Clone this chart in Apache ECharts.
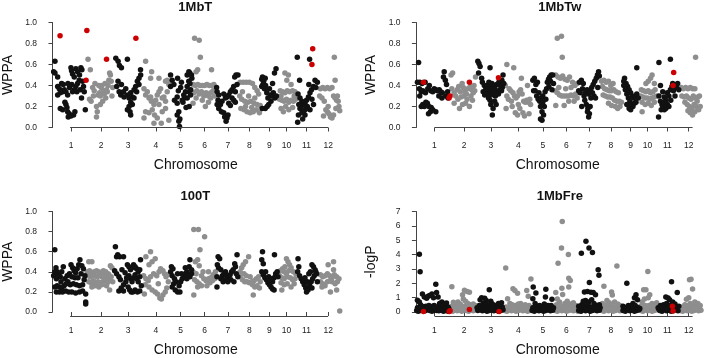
<!DOCTYPE html>
<html>
<head>
<meta charset="utf-8">
<script src="https://cdn.jsdelivr.net/npm/echarts@6/dist/echarts.min.js"></script>
<style>
  html, body { margin: 0; padding: 0; background: #fff; }
  #chart { width: 706px; height: 358px; }
</style>
</head>
<body>
<div id="chart"></div>
<script>
// chromosome starts in Mb (cumulative), tick positions as drawn, tick labels
const chrStart = [0, 43.3, 79.2, 115.6, 151.1, 181.0, 212.2, 241.9, 270.3, 293.3, 316.5, 345.5, 373.0]
const chrTicks = [24, 63, 98, 134, 166, 197, 227, 255, 281, 303, 329, 357]
const chrLabels = ['1', '2', '3', '4', '5', '6', '7', '8', '9', '10', '11', '12']

// 1MbT  [position Mb, WPPA]
const p1Pts = [
  [3.2,0.63],[1.5,0.53],[3.2,0.52],[6.7,0.48],[6.7,0.39],[8.8,0.37],[11.8,0.42],[14,0.41],[13.1,0.34],[10.1,0.33],[6.7,0.31],[15.3,0.36],[17.4,0.34],[19.6,0.31],[10.1,0.18],[13.1,0.17],[16.1,0.24],[17.4,0.22],[18.7,0.19],[19.6,0.15],[21.7,0.13],[23.9,0.11],[20.4,0.1],[27.3,0.12],[29,0.15],[23.9,0.57],[24.7,0.54],[26,0.51],[28.2,0.48],[30.3,0.56],[32.5,0.53],[35,0.5],[36.8,0.57],[38.1,0.55],[34.6,0.45],[32.5,0.42],[30.3,0.39],[28.2,0.36],[26,0.34],[31.6,0.34],[35.9,0.36],[38.9,0.44],[40.2,0.39],[41.1,0.34],[37.6,0.28],[42.5,0.17],[22,0.38],[20,0.42],[25,0.41],
  [46,0.65],[49,0.55],[48,0.27],[50,0.25],[52,0.38],[54,0.35],[55,0.42],[57,0.2],[58,0.15],[57,0.1],[59,0.31],[61,0.33],[62,0.3],[63,0.38],[64,0.4],[66,0.35],[67,0.32],[68,0.42],[70,0.36],[71,0.34],[72,0.4],[73,0.45],[74,0.52],[75,0.5],[76,0.44],[77,0.3],[78,0.38],[53,0.3],[60,0.4],[65,0.25],[69,0.28],[62,0.22],
  [82,0.66],[85,0.63],[86.7,0.59],[89.3,0.57],[97,0.65],[83.2,0.39],[86.3,0.34],[88.4,0.31],[91.8,0.34],[94.9,0.37],[97,0.31],[99.2,0.28],[101.3,0.33],[103.4,0.29],[105.6,0.36],[107.7,0.39],[109.9,0.44],[112,0.47],[114.2,0.5],[112,0.41],[109,0.34],[105.6,0.28],[101.3,0.24],[99.2,0.2],[100.4,0.15],[103.4,0.22],[101.3,0.12],[97,0.17],[92.7,0.29],[89.3,0.41],[84.9,0.44],[114,0.55],
  [120.6,0.63],[128.4,0.53],[137.9,0.47],[146.4,0.44],[127.1,0.47],[118.5,0.37],[120.6,0.31],[122.8,0.34],[125,0.28],[127.1,0.29],[128,0.25],[131.4,0.22],[133.6,0.26],[135.7,0.31],[137.9,0.34],[140,0.37],[142.1,0.28],[144.3,0.29],[146.4,0.25],[148.6,0.34],[148.6,0.45],[150.7,0.41],[120.6,0.15],[118.5,0.09],[125,0.14],[129.2,0.17],[132.2,0.12],[131.4,0.04],[140.9,0.04],[135.7,0.09],[142.1,0.15],[137.9,0.22],[146.4,0.18],[150.7,0.07],
  [152.9,0.5],[155,0.45],[157.2,0.41],[152.9,0.39],[161.5,0.29],[158,0.26],[161.5,0.23],[163.6,0.15],[161.5,0.12],[163.6,0.06],[164.5,0.01],[168,0.26],[170,0.31],[172.2,0.34],[174.4,0.39],[176.5,0.44],[174.4,0.5],[177.8,0.52],[176.6,0.53],[180.5,0.47],[174.5,0.28],[176.6,0.34],[178.8,0.31],[169,0.24],[171,0.28],[166,0.38],[167,0.43],[162,0.47],[163,0.35],[178,0.42],[180,0.5],[179,0.36],[177,0.2],[173,0.19],[165,0.08],
  [184,0.85],[190,0.83],[191.5,0.67],[188,0.55],[186,0.53],[206,0.55],[182,0.41],[185,0.4],[188,0.41],[191,0.4],[194,0.4],[197,0.4],[200,0.41],[203,0.4],[206,0.4],[209,0.41],[183,0.33],[187,0.35],[190,0.32],[193,0.34],[196,0.3],[199,0.33],[202,0.3],[205,0.33],[208,0.35],[182,0.23],[194,0.26],[202,0.24],[198,0.2],[205,0.28],[210,0.3],[186,0.28],
  [212.5,0.38],[213.2,0.34],[215.3,0.31],[214.4,0.26],[213.2,0.22],[215.3,0.18],[217.5,0.22],[219.6,0.25],[218.8,0.15],[221.8,0.14],[223,0.1],[226,0.09],[224.8,0.06],[227.3,0.12],[226,0.29],[228.2,0.31],[230.4,0.34],[232.5,0.36],[234.7,0.39],[236,0.48],[237.7,0.5],[240.2,0.5],[232.5,0.28],[234.7,0.26],[236.8,0.24],[228.2,0.23],[230.4,0.21],[224,0.28],[221.8,0.32],[236.8,0.34],[239,0.41],
  [243,0.43],[247,0.43],[251,0.43],[255,0.43],[259,0.42],[262,0.38],[265,0.35],[242.5,0.3],[245,0.27],[249,0.25],[253,0.24],[257,0.25],[261,0.23],[265,0.22],[269,0.21],[244,0.18],[248,0.17],[252,0.15],[256,0.14],[260,0.15],[264,0.17],[268,0.14],[250,0.2],[258,0.19],[246,0.34],[254,0.3],[262,0.28],[267,0.32],
  [271,0.46],[272,0.48],[273.5,0.44],[275.5,0.47],[271,0.39],[272.5,0.41],[274.5,0.37],[285,0.42],[287.5,0.52],[289.5,0.56],[277.5,0.33],[282,0.31],[286,0.33],[283,0.25],[280,0.22],[275.5,0.18],[271.5,0.18],[279,0.28],[284,0.3],[288,0.28],[290,0.3],[278,0.2],[276,0.4],[281,0.37],
  [301,0.52],[305.5,0.5],[303.5,0.45],[309,0.41],[295,0.35],[298,0.34],[301,0.33],[304,0.35],[307,0.34],[311,0.35],[314,0.34],[294,0.27],[297,0.26],[300,0.25],[303,0.27],[306,0.24],[309,0.26],[312,0.25],[315,0.27],[296,0.18],[299,0.15],[302,0.2],[306,0.17],[311,0.19],[296,0.3],[313,0.3],
  [317,0.67],[333,0.65],[320,0.45],[318,0.32],[320.5,0.28],[323,0.25],[325,0.22],[327,0.23],[329,0.26],[331.5,0.29],[333.5,0.33],[335.5,0.36],[338,0.39],[340,0.45],[332,0.41],[320.5,0.18],[325,0.15],[327,0.12],[318.5,0.12],[317.5,0.05],[323,0.14],[329,0.18],[333.5,0.17],[338,0.22],[336,0.27],[322,0.2],[330,0.2],[341,0.38],[343,0.43],[327,0.17],[324,0.08],[319,0.22],
  [365,0.67],[366,0.45],[347,0.37],[350,0.38],[353,0.37],[356,0.38],[359,0.37],[362,0.38],[364,0.3],[366,0.28],[368,0.26],[370,0.25],[371,0.2],[372,0.16],[349,0.28],[352,0.25],[354,0.17],[356,0.15],[358,0.13],[360,0.1],[362,0.09],[364,0.12],[367,0.18],[351,0.11],[346,0.3],[369,0.3],[357,0.2]
]
const p1Red = [[9.8,0.875],[44.5,0.925],[43.5,0.45],[70,0.65],[108,0.85],[337,0.75],[336,0.6]]

// 1MbTw
const p2Pts = [
  [3.5,0.62],[2,0.43],[5,0.43],[8,0.42],[12,0.43],[4.5,0.37],[7,0.34],[9,0.35],[12.5,0.33],[15.5,0.37],[17.5,0.4],[19.5,0.35],[22,0.34],[24,0.37],[26,0.36],[28,0.35],[30.5,0.36],[32.5,0.34],[34.5,0.33],[37,0.53],[36,0.48],[38.5,0.45],[40,0.41],[41.5,0.34],[39,0.3],[42,0.28],[7,0.2],[9,0.22],[11,0.2],[13,0.24],[15,0.23],[17,0.2],[20,0.19],[16.5,0.13],[19,0.15],[26,0.15],[22,0.17],[30,0.3],[34,0.28],[5,0.3],
  [46,0.5],[48,0.52],[47,0.37],[50,0.33],[52,0.3],[54,0.36],[56,0.39],[58,0.34],[60.5,0.42],[62,0.38],[64,0.34],[66,0.32],[68,0.37],[71,0.39],[73,0.36],[75,0.33],[77,0.35],[78,0.48],[76,0.4],[55,0.27],[59,0.29],[63,0.3],[67,0.27],[72,0.3],[57,0.18],[65,0.23],[70,0.2],[74,0.26],[50,0.23],[61,0.22],
  [81,0.63],[82.5,0.61],[84,0.58],[82,0.52],[86,0.47],[97,0.57],[87,0.43],[89.5,0.4],[91.5,0.37],[93.5,0.4],[95.5,0.43],[97.5,0.39],[99.5,0.42],[101.5,0.4],[103.5,0.37],[105.5,0.41],[108.5,0.43],[110.5,0.4],[112.5,0.45],[114,0.5],[88,0.34],[90,0.31],[92,0.33],[94,0.36],[96,0.3],[98,0.33],[100,0.35],[102,0.31],[104,0.3],[106,0.34],[108,0.32],[110,0.36],[112,0.35],[95,0.28],[98,0.22],[101,0.18],[100,0.12],[103,0.25],[105,0.22],[97,0.26],[113,0.38],[115,0.42],
  [119,0.6],[128,0.57],[138,0.47],[117,0.4],[122,0.37],[124,0.35],[127,0.33],[129,0.3],[131,0.28],[133,0.3],[135,0.34],[137,0.36],[139,0.32],[141,0.25],[143,0.24],[145,0.26],[147,0.24],[149,0.27],[146,0.4],[119,0.3],[121,0.27],[118,0.18],[126,0.2],[130,0.14],[133,0.12],[136,0.18],[140,0.14],[142,0.11],[148,0.13],[150,0.22],[125,0.25],[134,0.22],
  [153,0.45],[155,0.47],[157,0.41],[159,0.43],[156,0.35],[158,0.3],[160,0.27],[162,0.25],[161,0.33],[164,0.28],[166,0.24],[168,0.2],[166,0.3],[169,0.34],[171,0.37],[172,0.43],[173.5,0.46],[175,0.48],[177,0.5],[179,0.5],[176,0.44],[174,0.39],[178,0.36],[180,0.42],[170,0.27],[163,0.2],[165,0.15],[163,0.08],[165,0.07],[167,0.12],[154,0.35],
  [185,0.85],[190.5,0.87],[191.5,0.67],[183,0.5],[186,0.48],[189,0.47],[192,0.49],[195,0.46],[198,0.45],[201,0.48],[205,0.43],[208,0.4],[211,0.42],[182,0.35],[185,0.33],[188,0.31],[191,0.3],[194,0.3],[197,0.3],[200,0.3],[203,0.31],[206,0.3],[209,0.32],[187,0.38],[196,0.37],[203,0.38],[183,0.21],[194,0.21],[200,0.25],[207,0.25],[211,0.28],
  [214,0.43],[216.5,0.45],[219,0.42],[213,0.35],[215,0.33],[218,0.37],[220,0.3],[222,0.33],[224,0.36],[226,0.32],[228,0.35],[230,0.38],[232,0.41],[234,0.44],[236,0.47],[237.5,0.5],[239,0.53],[240,0.49],[233,0.3],[235,0.28],[229,0.28],[221,0.26],[223,0.22],[225,0.18],[224.5,0.15],[226,0.1],[227,0.13],[228,0.2],[217,0.2],[238,0.38],[231,0.33],
  [243,0.44],[246,0.45],[249,0.43],[252,0.44],[244,0.39],[247,0.37],[250,0.36],[253,0.35],[256,0.35],[259,0.36],[262,0.34],[265,0.33],[245,0.31],[248,0.3],[251,0.29],[254,0.29],[257,0.28],[260,0.26],[263,0.25],[266,0.25],[269,0.24],[252,0.23],[256,0.21],[261,0.2],[264,0.18],[267,0.2],[258,0.42],[255,0.4],
  [289,0.57],[273,0.47],[272,0.44],[275,0.42],[277,0.39],[279,0.36],[281,0.33],[283,0.3],[285,0.28],[287,0.3],[289,0.32],[291,0.28],[274,0.36],[276,0.32],[278,0.28],[280,0.25],[282,0.22],[284,0.2],[286,0.23],[279,0.18],[281,0.17],[288,0.24],[276,0.22],[272,0.4],
  [309,0.5],[307,0.47],[304,0.44],[301,0.42],[312,0.42],[295,0.36],[298,0.35],[301,0.34],[304,0.35],[307,0.33],[310,0.34],[313,0.36],[294,0.3],[297,0.29],[300,0.28],[303,0.28],[306,0.27],[309,0.28],[312,0.29],[315,0.3],[296,0.24],[300,0.22],[304,0.23],[308,0.21],[312,0.24],[296,0.15],
  [318,0.62],[333,0.65],[320,0.4],[318,0.3],[320,0.25],[322,0.22],[323,0.34],[325,0.29],[327,0.26],[329,0.33],[331,0.3],[333,0.36],[335,0.39],[337,0.35],[339,0.3],[341,0.38],[342.5,0.42],[321,0.17],[323,0.2],[325,0.24],[327,0.18],[329,0.22],[331,0.2],[333.5,0.26],[325,0.17],[317.5,0.1],[336,0.42],[344,0.36],
  [366,0.67],[347,0.38],[350,0.37],[353,0.38],[356,0.37],[359,0.38],[362,0.37],[365,0.37],[348,0.3],[351,0.29],[354,0.3],[357,0.28],[360,0.27],[363,0.3],[366,0.28],[369,0.29],[371,0.3],[352,0.24],[355,0.22],[358,0.2],[361,0.18],[364,0.22],[367,0.2],[370,0.17],[372,0.2],[356,0.16],[359,0.14],[362,0.12],[365,0.15],[368,0.25]
]
const p2Red = [[9.9,0.43],[44.7,0.3],[43.4,0.28],[70,0.43],[108,0.475],[337.3,0.525],[336.5,0.4]]

// 100T
const p3Pts = [
  [3,0.62],[1.5,0.36],[3,0.4],[4.5,0.44],[6,0.4],[5,0.33],[8,0.37],[10,0.35],[12,0.4],[3,0.25],[6,0.26],[9,0.25],[12,0.24],[15,0.26],[5,0.2],[9,0.2],[13,0.2],[17,0.21],[21,0.2],[25,0.2],[30,0.19],[35,0.2],[39,0.21],[16,0.33],[19,0.36],[22,0.38],[24,0.47],[26,0.44],[28,0.41],[30,0.39],[32,0.43],[35.5,0.52],[34,0.47],[38,0.46],[40,0.43],[37,0.38],[33,0.34],[29,0.34],[25,0.35],[20,0.3],[18,0.28],[23,0.27],[27,0.28],[31,0.27],[35,0.26],[39,0.27],[41,0.32],[42,0.36],[43,0.18],[43,0.1],[43,0.08],[14,0.45],[11,0.3],
  [47,0.5],[51,0.5],[45,0.4],[48,0.41],[51,0.39],[54,0.4],[57,0.41],[60,0.4],[63,0.39],[66,0.41],[69,0.4],[72,0.38],[75,0.46],[77,0.44],[46,0.36],[49,0.35],[52,0.37],[55,0.36],[58,0.35],[61,0.37],[64,0.35],[67,0.36],[70,0.34],[73,0.37],[76,0.35],[47,0.3],[50,0.29],[53,0.31],[56,0.28],[59,0.3],[62,0.29],[65,0.3],[68,0.31],[71,0.29],[74,0.31],[78,0.3],[51,0.25],[55,0.26],[60,0.25],[64,0.27],[70,0.26],[74,0.22],
  [81.5,0.65],[84.5,0.57],[83,0.55],[87,0.55],[92,0.55],[80.5,0.41],[83,0.38],[86,0.35],[88,0.32],[86,0.21],[89,0.24],[92,0.27],[95,0.3],[97,0.47],[99,0.45],[101,0.42],[103,0.44],[105,0.47],[107,0.45],[109,0.43],[111,0.4],[113,0.42],[114,0.52],[99,0.36],[101,0.33],[103,0.3],[105,0.34],[107,0.37],[109,0.33],[111,0.3],[113,0.35],[98,0.25],[100,0.22],[102,0.2],[104,0.2],[107,0.22],[110,0.2],[113,0.21],[115,0.26],[94,0.39],[90,0.42],[96,0.34],[92,0.21],
  [127,0.6],[121,0.55],[133,0.53],[125,0.47],[129,0.5],[118,0.36],[121,0.33],[124,0.31],[127,0.35],[131,0.38],[135,0.36],[138,0.4],[140,0.43],[143,0.41],[145,0.38],[147,0.35],[149,0.37],[120,0.27],[125,0.25],[129,0.22],[133,0.2],[136,0.18],[139,0.14],[141,0.13],[143,0.17],[146,0.2],[148,0.24],[150,0.3],[119,0.18],[137,0.28],
  [154,0.45],[156,0.43],[153,0.4],[155,0.36],[158,0.33],[160,0.3],[157,0.28],[155,0.25],[159,0.22],[162,0.2],[165,0.2],[164,0.26],[166,0.3],[168,0.33],[170,0.35],[172,0.38],[172,0.44],[174,0.4],[176,0.37],[178,0.35],[180,0.38],[178,0.52],[177,0.45],[162,0.38],[167,0.38],[174,0.33],[180,0.42],
  [183,0.82],[189,0.82],[197,0.75],[191,0.62],[188,0.52],[185,0.5],[190,0.46],[182,0.4],[186,0.38],[193,0.36],[196,0.33],[199,0.31],[202,0.33],[205,0.34],[208,0.37],[211,0.4],[184,0.32],[187,0.3],[190,0.28],[193,0.26],[200,0.26],[204,0.29],[207,0.31],[210,0.33],[183,0.17],[195,0.4],[202,0.4],[188,0.25],
  [214.5,0.55],[216.5,0.53],[213.5,0.47],[215,0.44],[213,0.35],[213,0.25],[218,0.33],[220,0.36],[222,0.38],[224,0.4],[226,0.36],[228,0.34],[230,0.37],[232,0.4],[234,0.42],[236,0.48],[239,0.57],[237,0.45],[238,0.38],[240,0.35],[224,0.32],[227,0.3],[231,0.32],[235,0.3],[221,0.3],[218,0.42],
  [254,0.55],[250,0.5],[247,0.47],[245,0.44],[243,0.4],[243,0.35],[246,0.32],[249,0.3],[252,0.3],[255,0.29],[258,0.3],[261,0.31],[264,0.33],[267,0.35],[269,0.3],[248,0.38],[251,0.36],[256,0.35],[259,0.27],[262,0.25],[265,0.26],[260,0.17],[268,0.24],
  [272,0.6],[271,0.52],[273,0.48],[287.5,0.57],[271,0.4],[273,0.37],[275,0.34],[277,0.32],[279,0.29],[281,0.27],[283,0.25],[285,0.23],[287,0.22],[285,0.3],[287,0.34],[289,0.38],[291,0.4],[292,0.35],[276,0.4],[280,0.35],[283,0.33],
  [303,0.53],[305,0.5],[307,0.47],[301,0.45],[295,0.41],[298,0.43],[300,0.4],[303,0.38],[306,0.41],[309,0.44],[312,0.4],[315,0.38],[294,0.36],[297,0.34],[300,0.33],[304,0.35],[308,0.34],[311,0.32],[314,0.33],[296,0.29],[300,0.27],[304,0.28],[309,0.25],[313,0.28],[297,0.22],
  [318,0.53],[319,0.45],[317.5,0.4],[320,0.36],[322,0.33],[324,0.3],[326,0.27],[328,0.24],[329,0.2],[331,0.22],[333,0.26],[335,0.3],[337,0.33],[339,0.36],[341,0.4],[336,0.47],[338,0.45],[340,0.42],[342,0.38],[330,0.3],[327,0.34],[332,0.38],[334,0.4],[343,0.3],[336,0.24],
  [364,0.5],[357,0.47],[364,0.42],[347,0.37],[350,0.35],[353,0.36],[356,0.38],[359,0.36],[362,0.34],[365,0.37],[368,0.35],[347,0.3],[350,0.28],[353,0.26],[356,0.3],[359,0.31],[362,0.3],[366,0.28],[369,0.3],[371,0.33],[349,0.25],[360,0.2],[368,0.22],[372,0.01]
]

// 1MbFre  [position Mb, -logP]
const p4Pts = [
  [4.5,4.03],[5.5,2.8],[2,0.82],[4.5,0.7],[6,0.5],[8.5,1.25],[11,1.05],[14,0.95],[16,1.1],[18,1.15],[21,1.25],[23,1.0],[26,1.94],[27,1.35],[29,1.05],[31,0.6],[34,0.7],[37,0.55],[40,0.62],[42,0.35],[10,0.35],[13,0.4],[20,0.3],[24,0.45],[28,0.3],[33,0.35],[38,0.2],[1,0.1],[3,0.05],[6,0.1],[9,0.12],[12,0.08],[15,0.15],[18,0.1],[21,0.05],[24,0.12],[27,0.1],[30,0.08],[33,0.12],[36,0.06],[39,0.1],[42,0.05],
  [2,0.3],[5,0.25],[8,0.4],[11,0.2],[14,0.3],[17,0.45],[19,0.25],[22,0.4],[25,0.25],[30,0.4],[32,0.2],[35,0.45],[40,0.3],[43,0.25],
  [47,1.76],[63.5,1.52],[67,1.43],[70,1.38],[61,1.2],[62,0.9],[49,0.68],[52,0.6],[55,0.7],[58,0.55],[65,0.75],[68,0.6],[72,0.5],[75,0.55],[78,0.45],[50,0.35],[57,0.3],[64,0.4],[71,0.3],[45,0.1],[48,0.05],[51,0.15],[54,0.08],[57,0.12],[60,0.06],[63,0.15],[66,0.1],[69,0.05],[72,0.12],[75,0.08],[78,0.15],
  [44,0.3],[47,0.4],[53,0.25],[56,0.45],[59,0.3],[62,0.25],[67,0.35],[70,0.45],[74,0.3],[77,0.25],
  [96,1.55],[86,1.0],[90,0.95],[84,0.85],[92,0.8],[98,0.75],[88,0.6],[94,0.5],[100,0.55],[104,0.45],[108,0.6],[112,0.65],[106,0.35],[102,0.3],[110,0.4],[81,0.1],[84,0.15],[87,0.08],[90,0.12],[93,0.05],[96,0.1],[99,0.15],[102,0.08],[105,0.12],[108,0.05],[111,0.1],[114,0.15],
  [80,0.3],[83,0.45],[86,0.3],[89,0.4],[92,0.25],[95,0.35],[98,0.3],[101,0.45],[104,0.2],[107,0.3],[110,0.2],[113,0.35],
  [117.5,3.07],[127,1.62],[129.5,1.5],[133,1.3],[145,1.5],[147,1.1],[150.5,2.3],[120,0.92],[123,0.6],[126,0.5],[130,0.45],[134,0.55],[137,0.6],[140,0.4],[143,0.5],[148,0.45],[150,0.3],[125,0.3],[132,0.25],[116,0.1],[119,0.05],[122,0.15],[125,0.08],[128,0.12],[131,0.05],[134,0.1],[137,0.15],[140,0.08],[143,0.12],[146,0.05],[149,0.1],
  [118,0.35],[121,0.25],[124,0.4],[127,0.3],[129,0.2],[135,0.3],[138,0.35],[141,0.25],[144,0.3],[147,0.25],
  [153.5,1.75],[157,1.33],[153,0.93],[156,0.6],[170,1.58],[169.5,1.05],[168,0.55],[178,0.88],[160,0.4],[164,0.35],[173,0.45],[176,0.3],[152,0.1],[155,0.05],[158,0.15],[161,0.08],[164,0.12],[167,0.05],[170,0.1],[173,0.15],[176,0.08],[179,0.12],
  [153,0.3],[156,0.35],[159,0.25],[162,0.45],[166,0.3],[169,0.25],[171,0.4],[174,0.2],[177,0.45],[180,0.3],
  [191.5,6.3],[190.5,4.45],[186,3.4],[199.5,4.0],[200,2.35],[202,2.2],[200,1.75],[191,1.65],[183,1.35],[192,1.22],[185,0.9],[188,0.7],[195,0.6],[198,0.75],[203,0.55],[206,0.65],[209,0.45],[184,0.5],[187,0.35],[194,0.3],[201,0.35],[208,0.25],[211,0.4],[182,0.1],[185,0.05],[188,0.15],[191,0.08],[194,0.12],[197,0.05],[200,0.1],[203,0.15],[206,0.08],[209,0.12],[212,0.05],
  [183,0.25],[186,0.45],[189,0.3],[192,0.4],[196,0.25],[199,0.45],[202,0.25],[205,0.4],[207,0.5],[210,0.2],
  [222.5,4.92],[216.5,4.1],[226.5,4.45],[231,4.15],[238.5,2.95],[239.5,2.56],[227,2.05],[220.5,1.4],[224.5,1.42],[229,1.38],[232,1.35],[235,1.2],[222,0.8],[226,0.7],[217,0.5],[219,0.75],[230,0.85],[233,0.6],[237,0.45],[240,0.5],[214,0.3],[228,0.35],[213,0.1],[216,0.05],[219,0.15],[222,0.08],[225,0.12],[228,0.05],[231,0.1],[234,0.15],[237,0.08],[240,0.12],
  [213,0.4],[215,0.25],[218,0.35],[220,0.45],[223,0.3],[225,0.5],[229,0.25],[232,0.35],[235,0.3],[238,0.25],[241,0.3],
  [263,3.2],[246,1.8],[256,1.4],[257,1.18],[250,0.8],[253,0.65],[260,0.7],[264,0.55],[267,0.45],[244,0.6],[248,0.45],[258,0.35],[262,0.3],[269,0.35],[243,0.1],[246,0.05],[249,0.15],[252,0.08],[255,0.12],[258,0.05],[261,0.1],[264,0.15],[267,0.08],[270,0.12],
  [243,0.35],[245,0.25],[248,0.3],[251,0.45],[254,0.3],[256,0.5],[259,0.25],[263,0.4],[265,0.25],[268,0.3],
  [276,2.0],[288,1.2],[286,1.0],[290,0.85],[284,0.6],[278,0.45],[281,0.3],[272,0.35],[271,0.1],[274,0.05],[277,0.15],[280,0.08],[283,0.12],[286,0.05],[289,0.1],[292,0.15],
  [271,0.4],[273,0.25],[275,0.3],[279,0.25],[282,0.45],[285,0.3],[287,0.45],[291,0.3],[293,0.25],
  [303.5,2.82],[298,1.55],[301,1.55],[306,1.2],[304,1.0],[296,0.7],[299,0.9],[309,0.6],[312,0.5],[315,0.65],[294,0.4],[302,0.35],[308,0.3],[294,0.1],[297,0.05],[300,0.15],[303,0.08],[306,0.12],[309,0.05],[312,0.1],[315,0.15],
  [295,0.25],[298,0.35],[300,0.45],[303,0.25],[305,0.45],[307,0.35],[310,0.3],[313,0.4],[316,0.3],
  [334.5,2.1],[342,1.35],[327,1.05],[330,0.98],[332,0.85],[336,0.7],[324,0.5],[328,0.6],[321,0.35],[339,0.55],[319,0.1],[322,0.05],[325,0.15],[328,0.08],[331,0.12],[334,0.05],[337,0.1],[340,0.15],[343,0.08],[318,0.2],[323,0.3],
  [317,0.3],[320,0.45],[322,0.25],[326,0.35],[329,0.3],[332,0.45],[335,0.3],[338,0.35],[341,0.3],[344,0.4],
  [358,2.25],[360,2.28],[362,1.6],[357,1.0],[354,0.88],[365,0.7],[359,0.6],[369,0.6],[352,0.5],[348,0.35],[356,0.3],[363,0.4],[371,0.35],[346,0.1],[349,0.05],[352,0.15],[355,0.08],[358,0.12],[361,0.05],[364,0.1],[367,0.15],[370,0.08],[373,0.12],
  [347,0.25],[350,0.3],[353,0.4],[357,0.45],[360,0.35],[362,0.25],[366,0.4],[368,0.3],[372,0.45]
]
const p4Red = [[9.9,0.03],[44.7,0.09],[43.5,0.04],[70,0.18],[108.8,0.03],[335.6,0.4],[336.5,0.07]]

const fontFamily = 'Liberation Sans, Arial, Helvetica, sans-serif'
const black = '#111111'
const grey = '#8e8e8e'
const red = '#cc0000'
const axisColor = '#444444'

const panels = [
  { title: '1MbT', yName: 'WPPA', yMax: 1, yStep: 0.2, pts: p1Pts, red: p1Red, left: 45, top: 22.5, height: 105 },
  { title: '1MbTw', yName: 'WPPA', yMax: 1, yStep: 0.2, pts: p2Pts, red: p2Red, left: 409.5, top: 22.5, height: 105 },
  { title: '100T', yName: 'WPPA', yMax: 1, yStep: 0.2, pts: p3Pts, red: [], left: 45, top: 211.5, height: 104.8 },
  { title: '1MbFre', yName: '-logP', yMax: 7, yStep: 1, pts: p4Pts, red: p4Red, left: 409.5, top: 211.5, height: 104.8 }
]
const gridWidth = 300.6
const xMin = -8.4
const xMax = 379.6
const pxPerMb = gridWidth / (xMax - xMin)

function chrIndex(x) {
  let i = 0
  while (i < 11 && x >= chrStart[i + 1]) i++
  return i
}

let chart = echarts.init(document.getElementById('chart'))

let series = []
panels.forEach((p, i) => {
  const base = {
    type: 'scatter',
    xAxisIndex: i,
    yAxisIndex: i,
    symbolSize: 5.5,
    silent: true,
    animation: false
  }
  series.push(Object.assign({}, base, {
    data: p.pts.filter(d => chrIndex(d[0]) % 2 === 1),
    itemStyle: { color: grey, opacity: 1 }
  }))
  series.push(Object.assign({}, base, {
    data: p.pts.filter(d => chrIndex(d[0]) % 2 === 0),
    itemStyle: { color: black, opacity: 1 }
  }))
  series.push(Object.assign({}, base, {
    data: p.red,
    itemStyle: { color: red, opacity: 1 },
    z: 3
  }))
})

// R-style x axis line: only from the first to the last chromosome tick
const axisLines = panels.map(p => ({
  type: 'rect',
  silent: true,
  z: 100,
  shape: {
    x: p.left + (chrTicks[0] - xMin) * pxPerMb,
    y: Math.floor(p.top + p.height),
    width: (chrTicks[11] - chrTicks[0]) * pxPerMb,
    height: 1
  },
  style: { fill: axisColor }
}))

chart.setOption({
  backgroundColor: '#fff',
  animation: false,
  title: panels.map(p => ({
    text: p.title,
    left: p.left + gridWidth / 2,
    top: p.top - 22,
    padding: 0,
    textAlign: 'center',
    textStyle: { fontFamily, fontSize: 13, fontWeight: 'bold', color: black }
  })),
  grid: panels.map(p => ({ left: p.left, top: p.top, width: gridWidth, height: p.height })),
  xAxis: panels.map((p, i) => ({
    type: 'value',
    gridIndex: i,
    min: xMin,
    max: xMax,
    name: 'Chromosome',
    nameLocation: 'middle',
    nameGap: 31,
    nameTextStyle: { fontFamily, fontSize: 14, color: black },
    axisLine: { show: false },
    axisTick: { show: true, length: 4, customValues: chrTicks, lineStyle: { color: axisColor } },
    axisLabel: {
      show: true,
      customValues: chrTicks,
      margin: 14,
      fontFamily,
      fontSize: 8.5,
      color: '#222',
      formatter: v => chrLabels[chrTicks.indexOf(v)]
    },
    splitLine: { show: false }
  })),
  yAxis: panels.map((p, i) => ({
    type: 'value',
    gridIndex: i,
    min: 0,
    max: p.yMax,
    interval: p.yStep,
    name: p.yName,
    nameLocation: 'middle',
    nameGap: 31,
    nameTextStyle: { fontFamily, fontSize: 14, color: black },
    axisLine: { show: true, lineStyle: { color: axisColor } },
    axisTick: { show: true, length: 4, lineStyle: { color: axisColor } },
    axisLabel: {
      margin: 9,
      fontFamily,
      fontSize: 8.5,
      color: '#222',
      formatter: v => p.yMax === 1 ? v.toFixed(1) : String(Math.round(v))
    },
    splitLine: { show: false }
  })),
  graphic: { elements: axisLines },
  series: series
})
</script>
</body>
</html>
